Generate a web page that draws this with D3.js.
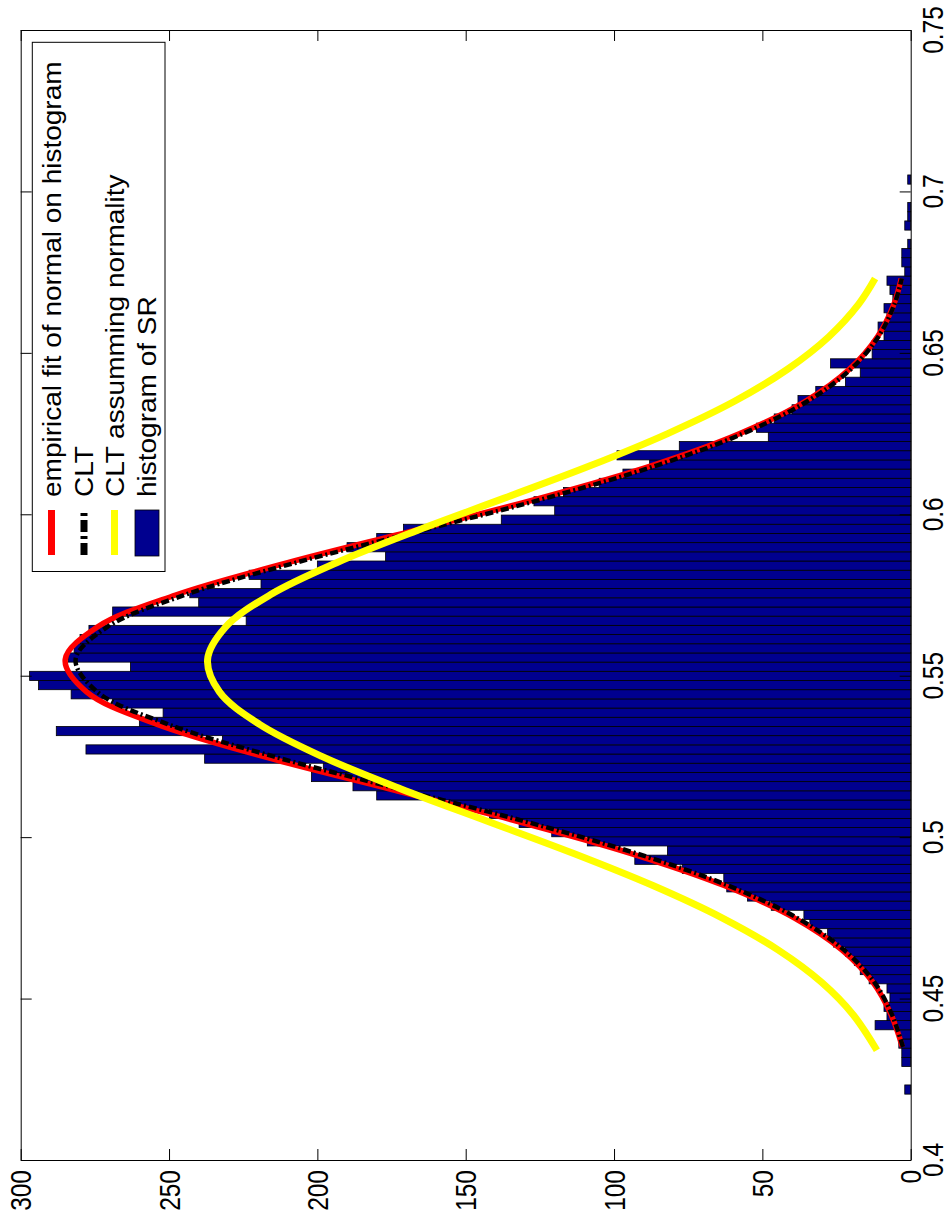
<!DOCTYPE html>
<html><head><meta charset="utf-8">
<script src="https://cdn.jsdelivr.net/npm/d3@7"></script>
<style>body{margin:0;background:#fff}</style>
</head><body>
<svg id="c" width="949" height="1222" xmlns="http://www.w3.org/2000/svg"></svg>
<script>
// ---- data ----
const histRange = [0.4204, 0.7051];           // SR range covered by the 100 bins
const histCounts = [
  2,0,0,3,3,4,4,12,8,9,
  7,8,14,17,19,22,26,28,34,36,
  47,55,62,63,77,93,82,109,121,132,
  142,155,180,188,202,198,238,278,232,288,
  260,252,269,283,294,297,263,284,282,280,
  277,224,269,240,243,219,223,200,177,190,
  180,171,138,120,127,117,105,97,88,99,
  78,48,52,46,40,38,32,22,17,27,
  13,13,9,11,8,9,6,7,8,2,
  3,3,1,0,2,1,1,0,0,1
];
const fitSR = [0.435,0.445,0.455,0.465,0.475,0.485,0.495,0.505,0.515,0.525,0.535,0.545,0.555,0.565,0.575,0.585,0.595,0.605,0.615,0.625,0.635,0.645,0.655,0.665,0.673];
const fitCount = [2.8,6.6,12.7,23.1,39.3,62.9,94.5,133,175.9,218.3,254.2,277.8,285,274.3,247.8,210,167.2,124.9,87.5,57.6,35.5,20.6,11.2,5.7,3.2];
const cltCount = [2.6,6.3,12.2,22.4,38.3,61.5,92.6,130.5,172.8,214.8,250.5,274.2,281.5,271,244.8,207.3,164.8,122.9,86,56.5,34.8,20.1,10.9,5.5,3.0];
const normSR = [0.434,0.445,0.455,0.465,0.475,0.485,0.495,0.505,0.515,0.525,0.535,0.545,0.555,0.565,0.575,0.585,0.595,0.605,0.615,0.625,0.635,0.645,0.655,0.665,0.673];
const normCount = [11.4,19.4,30.0,44.6,63.6,86.9,113.8,142.9,172,198.5,219.6,233,237,231,216,193.5,166.3,137,108.1,81.9,59.4,41.4,27.6,17.6,12.0];
const countTicks = [0,50,100,150,200,250,300];
const srTicks = [0.4,0.45,0.5,0.55,0.6,0.65,0.7,0.75];
const srTickLabels = ["0.4","0.45","0.5","0.55","0.6","0.65","0.7","0.75"];
const legendLabels = ["empirical fit of normal on histogram","CLT","CLT assumming normality","histogram of SR"];

// ---- drawing ----
const svg = d3.select("#c");
svg.append("rect").attr("width",949).attr("height",1222).attr("fill","#fff");
const L = 20.7, R = 910.7, T = 30, B = 1160;
const xV = d3.scaleLinear().domain([0,300]).range([R, L]);
const yS = d3.scaleLinear().domain([0.4,0.75]).range([B, T]);
const FONT = "'Liberation Sans', Arial, Helvetica, sans-serif";

const nb = histCounts.length;
const bw = (histRange[1]-histRange[0])/nb;
const bins = histCounts.map((c,i)=>({c, lo: histRange[0]+i*bw, hi: histRange[0]+(i+1)*bw}));

svg.append("g").selectAll("rect").data(bins.filter(b=>b.c>0)).join("rect")
  .attr("x", b=>xV(b.c)).attr("width", b=>xV(0)-xV(b.c))
  .attr("y", b=>yS(b.hi)).attr("height", b=>yS(b.lo)-yS(b.hi))
  .attr("fill","#00008f").attr("stroke","#000").attr("stroke-width",0.8);

const line = d3.line().x(d=>xV(d[1])).y(d=>yS(d[0])).curve(d3.curveCatmullRom);
svg.append("path").attr("d", line(fitSR.map((s,i)=>[s,fitCount[i]])))
  .attr("fill","none").attr("stroke","#ff0000").attr("stroke-width",5.5);
svg.append("path").attr("d", line(fitSR.map((s,i)=>[s,cltCount[i]])))
  .attr("fill","none").attr("stroke","#000").attr("stroke-width",4.5)
  .attr("stroke-dasharray","8,3,2,3");
svg.append("path").attr("d", line(normSR.map((s,i)=>[s,normCount[i]])))
  .attr("fill","none").attr("stroke","#ffff00").attr("stroke-width",7);

// axes (inward ticks on all four sides, domains form the frame)
function styleAxis(g){ g.selectAll("path,line").attr("stroke","#000").attr("stroke-width",1); g.selectAll("text").remove(); }
svg.append("g").attr("transform",`translate(0,${B})`)
  .call(d3.axisBottom(xV).tickValues(countTicks).tickSizeInner(-11).tickSizeOuter(0).tickFormat("")).call(styleAxis);
svg.append("g").attr("transform",`translate(0,${T})`)
  .call(d3.axisTop(xV).tickValues(countTicks).tickSizeInner(-11).tickSizeOuter(0).tickFormat("")).call(styleAxis);
svg.append("g").attr("transform",`translate(${R},0)`)
  .call(d3.axisRight(yS).tickValues(srTicks).tickSizeInner(-11).tickSizeOuter(0).tickFormat("")).call(styleAxis);
svg.append("g").attr("transform",`translate(${L},0)`)
  .call(d3.axisLeft(yS).tickValues(srTicks).tickSizeInner(-11).tickSizeOuter(0).tickFormat("")).call(styleAxis);

// tick labels (rotated page)
svg.append("g").selectAll("text").data(countTicks).join("text")
  .attr("transform", v=>`translate(${xV(v)+10.5},${B+10}) rotate(-90) scale(1,1.2)`)
  .attr("text-anchor","end").attr("font-family",FONT).attr("font-size",24.5).attr("fill","#000")
  .text(v=>String(v));
svg.append("g").selectAll("text").data(srTicks).join("text")
  .attr("transform", v=>`translate(943,${yS(v)}) rotate(-90) scale(1,1.2)`)
  .attr("text-anchor","middle").attr("font-family",FONT).attr("font-size",24.5).attr("fill","#000")
  .text((v,i)=>srTickLabels[i]);

// legend
const lg = svg.append("g");
lg.append("rect").attr("x",32.3).attr("y",42.3).attr("width",132.7).attr("height",529.2)
  .attr("fill","#fff").attr("stroke","#000").attr("stroke-width",1);
const lx = [51.5, 84, 114.5, 147];
lg.append("line").attr("x1",lx[0]).attr("x2",lx[0]).attr("y1",510).attr("y2",555).attr("stroke","#ff0000").attr("stroke-width",7);
lg.append("line").attr("x1",lx[1]).attr("x2",lx[1]).attr("y1",555).attr("y2",510).attr("stroke","#000").attr("stroke-width",7).attr("stroke-dasharray","12,4,3,4");
lg.append("line").attr("x1",lx[2]).attr("x2",lx[2]).attr("y1",510).attr("y2",555).attr("stroke","#ffff00").attr("stroke-width",7);
lg.append("rect").attr("x",135).attr("y",510).attr("width",24).attr("height",46).attr("fill","#00008f").attr("stroke","#000").attr("stroke-width",0.8);
lg.selectAll("text").data(legendLabels).join("text")
  .attr("transform",(t,i)=>`translate(${lx[i]+9},497) rotate(-90) scale(1,0.9)`)
  .attr("text-anchor","start").attr("font-family",FONT).attr("font-size",28).attr("fill","#000")
  .text(t=>t);
</script>
</body></html>
